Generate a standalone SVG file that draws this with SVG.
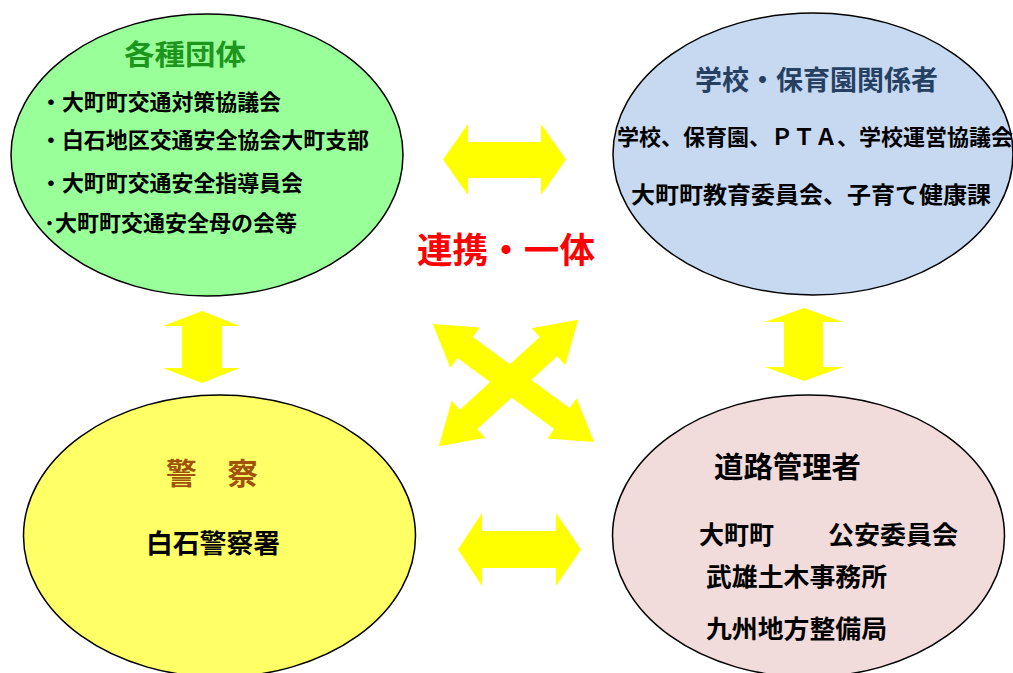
<svg xmlns="http://www.w3.org/2000/svg" width="1013" height="673" viewBox="0 0 1013 673">
<style>
.node{stroke:#000;stroke-width:1.5}
.t{font-family:"Noto Sans CJK JP","Noto Sans CJK SC",sans-serif;font-weight:bold;fill:#000}
.arrow{fill:#FFFF00;stroke:none}
</style>
<defs>
<polygon id="dbl200" points="-100,0 -60,-25 -60,-13 60,-13 60,-25 100,0 60,25 60,13 -60,13 -60,25"/>
<polygon id="dbl188" points="-94,0 -54,-25 -54,-13 54,-13 54,-25 94,0 54,25 54,13 -54,13 -54,25"/>
</defs>
<rect width="1013" height="673" fill="#fff"/>
<g id="connectors" class="arrow">
<polygon points="443,159.5 468,124 468,142 541,142 541,124 566,159.5 541,195 541,178 468,178 468,195"/>
<polygon points="458,549.5 482,513 482,531 556,531 556,513 581,549.5 556,586 556,568 482,568 482,586"/>
<polygon points="202,311 240,326 222,326 222,368 240,368 202,383 163,368 182,368 182,326 163,326"/>
<polygon points="804,308 843,322 823,322 823,367 843,367 804,381 765,367 784,367 784,322 765,322"/>
<use href="#dbl200" transform="translate(513.5,383) rotate(36.2)"/>
<use href="#dbl188" transform="translate(508.5,383) rotate(-42.2)"/>
</g>
<g id="node-groups">
<ellipse class="node" cx="207" cy="155" rx="196" ry="141" fill="#99FF99"/>
<text class="t" x="124" y="65" font-size="28" textLength="122" lengthAdjust="spacingAndGlyphs" style="fill:#1E961E">各種団体</text>
<text class="t" x="40" y="110" font-size="22" textLength="241" lengthAdjust="spacingAndGlyphs">・大町町交通対策協議会</text>
<text class="t" x="40" y="147.5" font-size="22" textLength="329" lengthAdjust="spacingAndGlyphs">・白石地区交通安全協会大町支部</text>
<text class="t" x="40" y="190.5" font-size="22" textLength="263" lengthAdjust="spacingAndGlyphs">・大町町交通安全指導員会</text>
<text class="t" x="44" y="231" font-size="22" textLength="253" lengthAdjust="spacingAndGlyphs">･大町町交通安全母の会等</text>
</g>
<g id="node-school">
<ellipse class="node" cx="813" cy="154" rx="200" ry="141" fill="#C6D9F1"/>
<text class="t" x="695" y="90" font-size="27" textLength="243" lengthAdjust="spacingAndGlyphs" style="fill:#254061">学校・保育園関係者</text>
<text class="t" x="617" y="145" font-size="22" textLength="396" lengthAdjust="spacingAndGlyphs">学校、保育園、ＰＴＡ、学校運営協議会</text>
<text class="t" x="631" y="203" font-size="23" textLength="360" lengthAdjust="spacingAndGlyphs">大町町教育委員会、子育て健康課</text>
</g>
<g id="label-center">
<text class="t" x="417" y="262.5" font-size="35" textLength="178" lengthAdjust="spacingAndGlyphs" style="fill:#FF0000">連携・一体</text>
</g>
<g id="node-police">
<ellipse class="node" cx="219.5" cy="536" rx="196" ry="141" fill="#FFFF66"/>
<text class="t" x="166" y="484" font-size="30" textLength="92" lengthAdjust="spacingAndGlyphs" style="fill:#A0520A">警　察</text>
<text class="t" x="146" y="552.5" font-size="26.5" textLength="134" lengthAdjust="spacingAndGlyphs">白石警察署</text>
</g>
<g id="node-road">
<ellipse class="node" cx="808.5" cy="536" rx="196" ry="141" fill="#F2DCDB"/>
<text class="t" x="714" y="478" font-size="29" textLength="147" lengthAdjust="spacingAndGlyphs">道路管理者</text>
<text class="t" x="699" y="543.5" font-size="25" textLength="75" lengthAdjust="spacingAndGlyphs">大町町</text>
<text class="t" x="828" y="543.5" font-size="25" textLength="130" lengthAdjust="spacingAndGlyphs">公安委員会</text>
<text class="t" x="706" y="586" font-size="25.5" textLength="181" lengthAdjust="spacingAndGlyphs">武雄土木事務所</text>
<text class="t" x="706" y="638" font-size="25.5" textLength="181" lengthAdjust="spacingAndGlyphs">九州地方整備局</text>
</g>
</svg>
